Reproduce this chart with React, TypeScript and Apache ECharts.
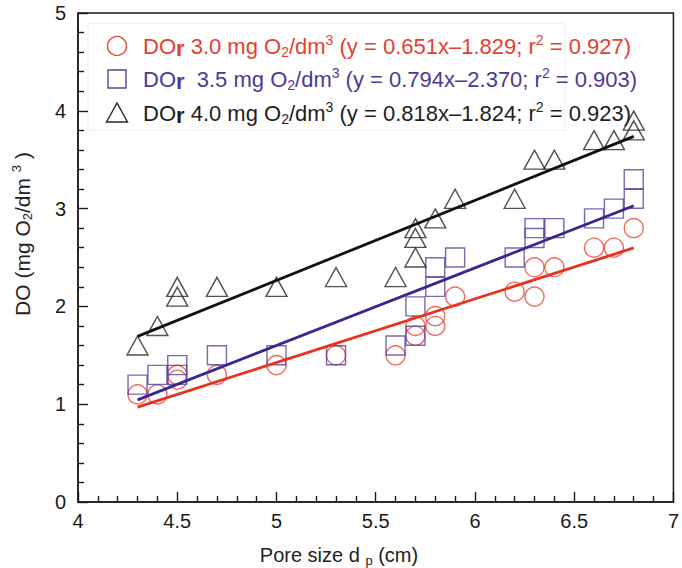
import { useEffect, useRef } from "react";
import * as echarts from "echarts";

const FONT = "'Liberation Sans', Arial, Helvetica, sans-serif";

// DO_r = 3.0 mg O2/dm3 (circles)
const circleX = [4.3, 4.4, 4.5, 4.5, 4.7, 5.0, 5.3, 5.6, 5.7, 5.7, 5.8, 5.8, 5.9, 6.2, 6.3, 6.3, 6.4, 6.6, 6.7, 6.8];
const circleY = [1.1, 1.1, 1.3, 1.25, 1.3, 1.4, 1.5, 1.5, 1.7, 1.8, 1.9, 1.8, 2.1, 2.15, 2.4, 2.1, 2.4, 2.6, 2.6, 2.8];

// DO_r = 3.5 mg O2/dm3 (squares)
const squareX = [4.3, 4.4, 4.5, 4.5, 4.7, 5.0, 5.3, 5.6, 5.7, 5.7, 5.8, 5.8, 5.9, 6.2, 6.3, 6.3, 6.4, 6.6, 6.7, 6.8, 6.8];
const squareY = [1.2, 1.3, 1.4, 1.3, 1.5, 1.5, 1.5, 1.6, 2.0, 1.7, 2.4, 2.2, 2.5, 2.5, 2.8, 2.7, 2.8, 2.9, 3.0, 3.3, 3.1];

// DO_r = 4.0 mg O2/dm3 (triangles)
const triangleX = [4.3, 4.4, 4.5, 4.5, 4.7, 5.0, 5.3, 5.6, 5.7, 5.7, 5.7, 5.8, 5.9, 6.2, 6.3, 6.4, 6.6, 6.7, 6.8, 6.8];
const triangleY = [1.6, 1.8, 2.2, 2.1, 2.2, 2.2, 2.3, 2.3, 2.8, 2.7, 2.5, 2.9, 3.1, 3.1, 3.5, 3.5, 3.7, 3.7, 3.9, 3.8];

// Regression lines given in the legend
const slopes = [0.651, 0.794, 0.818];
const intercepts = [-1.829, -2.37, -1.824];
const fitRange = [4.3, 6.8];

const doLevels = ["3.0", "3.5", "4.0"];
const slopeText = ["0.651x", "0.794x", "0.818x"];
const interceptText = ["1.829", "2.370", "1.824"];
const r2Text = ["0.927", "0.903", "0.923"];
const levelGap = [" ", "  ", " "];

const markerColors = ["#e8473a", "#55449f", "#262626"];
const lineColors = ["#e8321e", "#3a2690", "#111111"];
const textColors = ["#e5402f", "#4a3a98", "#1e1e1e"];

const zip = (xs: number[], ys: number[]) => xs.map((x, i) => [x, ys[i]]);

export default function App() {
  const ref = useRef<HTMLDivElement>(null);

  useEffect(() => {
    if (!ref.current) return;
    const chart = echarts.init(ref.current, undefined, { renderer: "svg" });

    const axisColor = "#1a1a1a";
    const legendRich = {
      t: { fontSize: 22, fontFamily: FONT, lineHeight: 26 },
      r: { fontSize: 22, fontFamily: FONT, fontWeight: "bold", lineHeight: 16, verticalAlign: "bottom" },
      b: { fontSize: 14, fontFamily: FONT, lineHeight: 14, verticalAlign: "bottom" },
      p: { fontSize: 14, fontFamily: FONT, lineHeight: 14, verticalAlign: "top" },
    };
    const legendRows = [46, 79, 113];
    const legendTexts = doLevels.map(
      (lv, i) =>
        `{t|DO}{r|r}{t|${levelGap[i]}${lv} mg O}{b|2}{t|/dm}{p|3}{t| (y = ${slopeText[i]}–${interceptText[i]}; r}{p|2}{t| = ${r2Text[i]})}`
    );

    const lineData = slopes.map((s, i) => fitRange.map((x) => [x, +(s * x + intercepts[i]).toFixed(4)]));

    const titleRich = {
      t: { fontSize: 21, fontFamily: FONT, lineHeight: 24 },
      b: { fontSize: 13, fontFamily: FONT, lineHeight: 13, verticalAlign: "bottom" },
      p: { fontSize: 13, fontFamily: FONT, lineHeight: 13, verticalAlign: "top" },
    };
    const xTitleRich = {
      t: { fontSize: 20, fontFamily: FONT, lineHeight: 24 },
      b: { fontSize: 13, fontFamily: FONT, lineHeight: 13, verticalAlign: "bottom" },
    };

    chart.setOption({
      animation: false,
      grid: {
        left: 78,
        right: 6,
        top: 13,
        bottom: 66,
        show: true,
        borderColor: axisColor,
        borderWidth: 1.5,
      },
      xAxis: {
        type: "value",
        min: 4,
        max: 7,
        interval: 0.5,
        axisLine: { show: true, lineStyle: { color: axisColor, width: 1.5 } },
        axisTick: { show: true, inside: true, length: 10, lineStyle: { color: axisColor, width: 1.4 } },
        minorTick: { show: true, splitNumber: 5, length: 6, lineStyle: { color: axisColor, width: 1.4 } },
        splitLine: { show: false },
        axisLabel: { fontSize: 20, fontFamily: FONT, color: axisColor, margin: 9 },
      },
      yAxis: {
        type: "value",
        min: 0,
        max: 5,
        interval: 1,
        axisLine: { show: true, lineStyle: { color: axisColor, width: 1.5 } },
        axisTick: { show: true, inside: true, length: 10, lineStyle: { color: axisColor, width: 1.4 } },
        minorTick: { show: true, splitNumber: 5, length: 6, lineStyle: { color: axisColor, width: 1.4 } },
        splitLine: { show: false },
        axisLabel: { fontSize: 20, fontFamily: FONT, color: axisColor, margin: 12 },
      },
      series: [
        ...lineData.map((d, i) => ({
          type: "line",
          data: d,
          symbol: "none",
          silent: true,
          lineStyle: { color: lineColors[i], width: 2.8 },
        })),
        {
          type: "scatter",
          data: zip(circleX, circleY),
          symbol: "circle",
          symbolSize: 19,
          itemStyle: { color: "rgba(0,0,0,0)", borderColor: markerColors[0], borderWidth: 1.4 },
        },
        {
          type: "scatter",
          data: zip(squareX, squareY),
          symbol: "rect",
          symbolSize: 19,
          itemStyle: { color: "rgba(0,0,0,0)", borderColor: markerColors[1], borderWidth: 1.4 },
        },
        {
          type: "scatter",
          data: zip(triangleX, triangleY),
          symbol: "triangle",
          symbolSize: [21, 19],
          itemStyle: { color: "rgba(0,0,0,0)", borderColor: markerColors[2], borderWidth: 1.4 },
        },
      ],
      graphic: [
        {
          type: "rect",
          shape: { x: 88, y: 23, width: 477, height: 107 },
          style: { fill: "none", stroke: "#ececec", lineWidth: 1 },
        },
        {
          type: "circle",
          shape: { cx: 117, cy: legendRows[0], r: 9.5 },
          style: { fill: "none", stroke: markerColors[0], lineWidth: 1.4 },
        },
        {
          type: "rect",
          shape: { x: 108, y: legendRows[1] - 9, width: 18, height: 18 },
          style: { fill: "none", stroke: markerColors[1], lineWidth: 1.4 },
        },
        {
          type: "polygon",
          shape: {
            points: [
              [117, legendRows[2] - 10],
              [106.5, legendRows[2] + 9],
              [127.5, legendRows[2] + 9],
            ],
          },
          style: { fill: "none", stroke: markerColors[2], lineWidth: 1.4 },
        },
        ...legendTexts.map((txt, i) => ({
          type: "text",
          x: 143,
          y: legendRows[i],
          style: {
            text: txt,
            rich: legendRich,
            fill: textColors[i],
            align: "left",
            verticalAlign: "middle",
            fontFamily: FONT,
            fontSize: 22,
          },
        })),
        {
          type: "text",
          x: 339,
          y: 555,
          style: {
            text: "{t|Pore size d }{b|p}{t| (cm)}",
            rich: xTitleRich,
            fill: "#222",
            align: "center",
            verticalAlign: "middle",
            fontFamily: FONT,
            fontSize: 20,
          },
        },
        {
          type: "text",
          x: 22,
          y: 234,
          rotation: Math.PI / 2,
          style: {
            text: "{t|DO (mg O}{b|2}{t|/dm }{p|3}{t| )}",
            rich: titleRich,
            fill: "#222",
            align: "center",
            verticalAlign: "middle",
            fontFamily: FONT,
            fontSize: 21,
          },
        },
      ],
    });

    return () => {
      chart.dispose();
    };
  }, []);

  return (
    <div
      ref={ref}
      style={{ position: "fixed", left: 0, top: 0, width: 682, height: 568, background: "#fff" }}
    />
  );
}
